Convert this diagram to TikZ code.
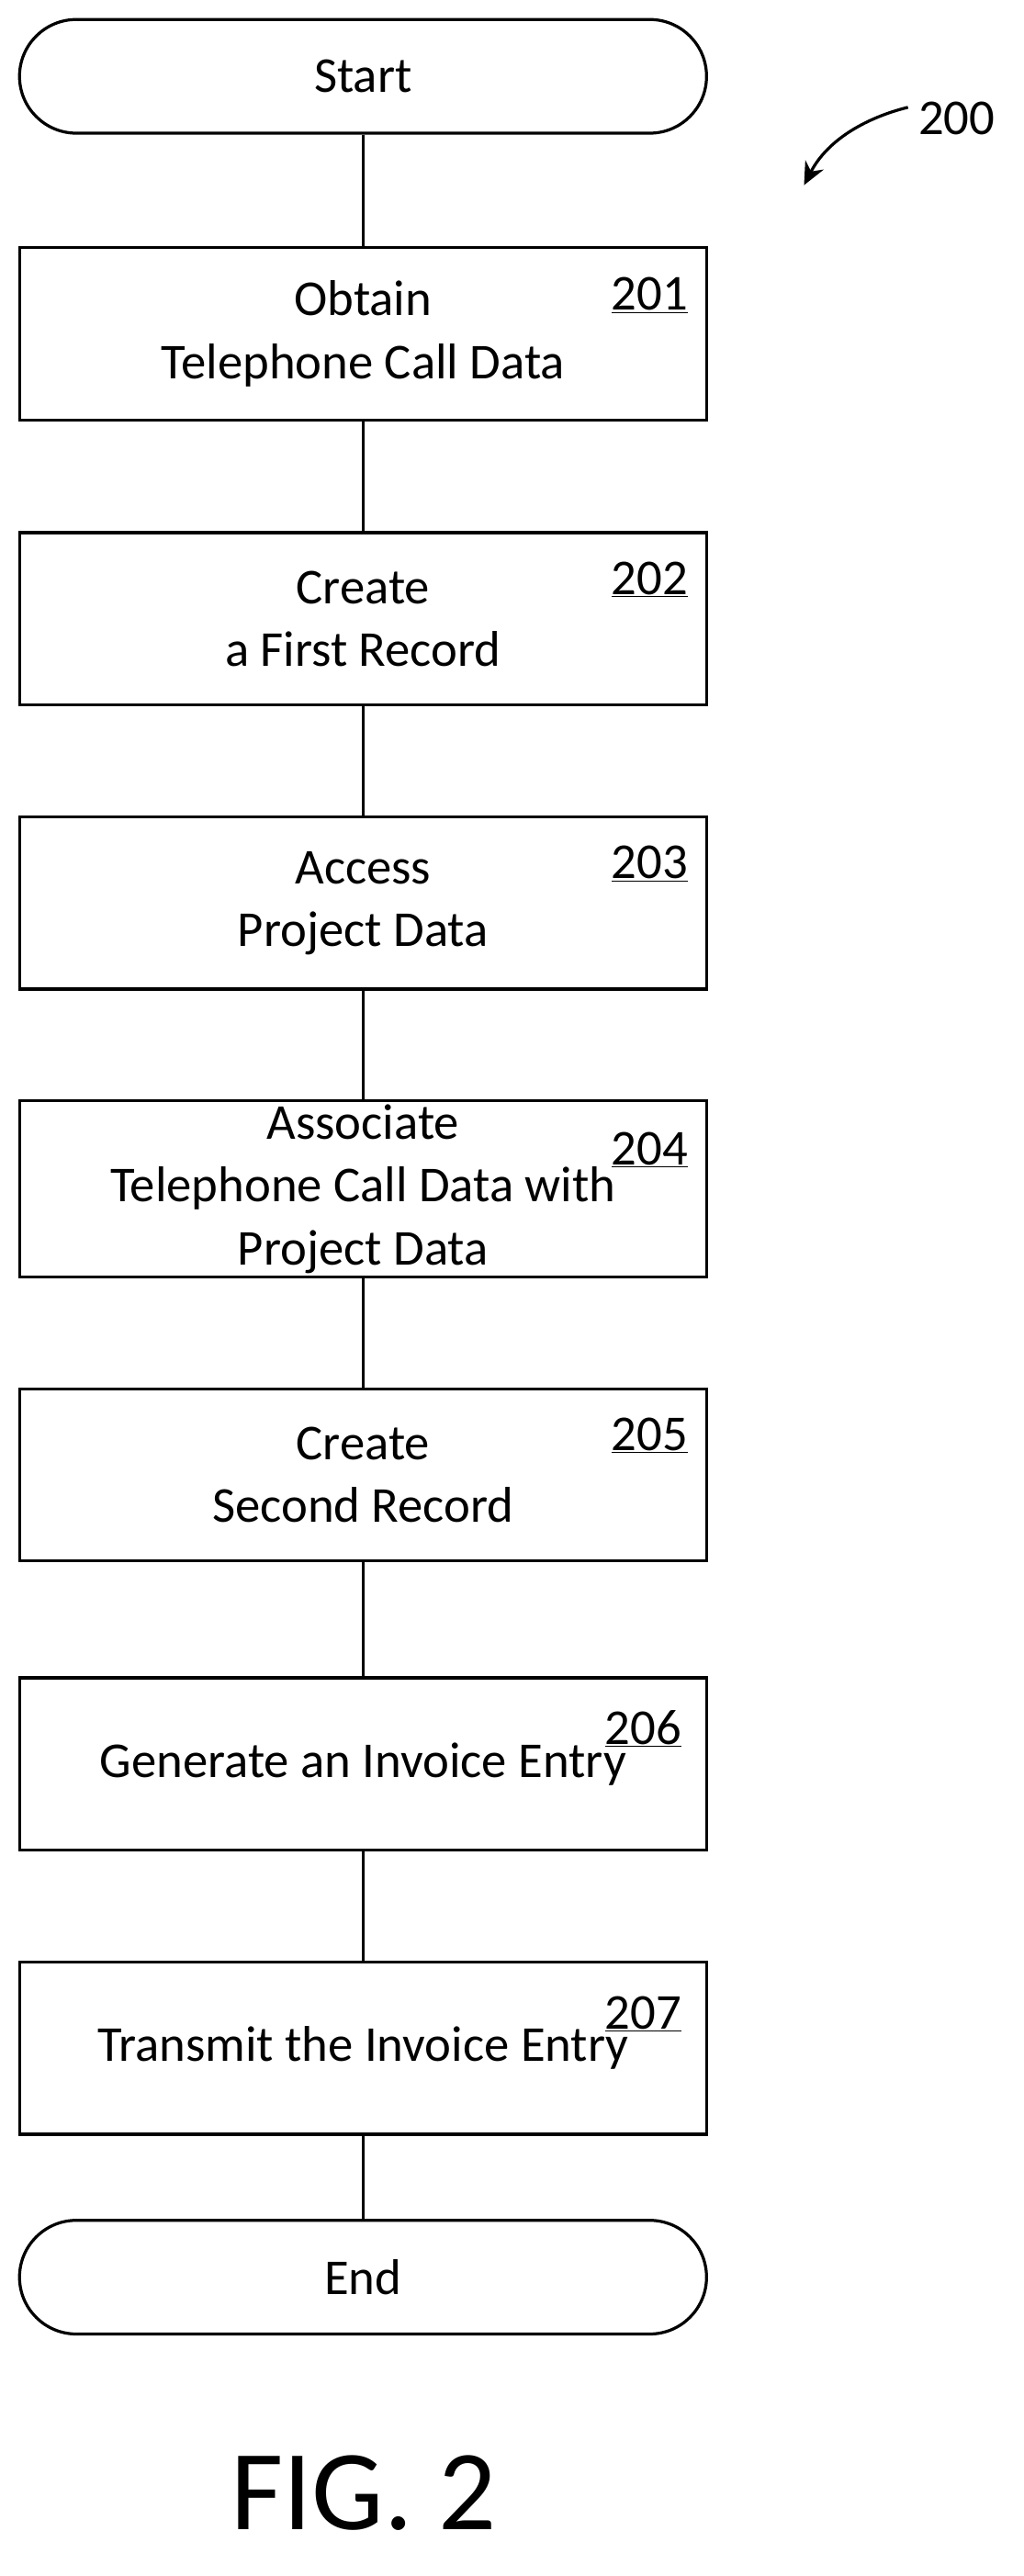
\documentclass[tikz,border=0pt]{standalone}
\usepackage{fontspec}
\setmainfont{Carlito}
\usetikzlibrary{positioning,arrows.meta}
\tikzset{
  stepbox/.style={draw, line width=2.6pt, minimum width=21.15cm, minimum height=5.3cm,
    align=center, font=\fontsize{44}{55}\selectfont},
  pill/.style={stepbox, rounded corners=1.75cm, minimum height=3.5cm},
  refnum/.style={font=\fontsize{44}{55}\selectfont, anchor=base},
  link/.style={line width=2.6pt}
}
\newcommand*{\StepNum}[1]{\underline{#1}}
\begin{document}
\begin{tikzpicture}[x=0.05cm,y=-0.05cm]
  \useasboundingbox (0,0) rectangle (630,1586);
  \node[pill] (start) at (223.5,47) {Start};
  \node[stepbox] (s201) at (223.5,205.5) {Obtain\\Telephone Call Data};
  \node[stepbox] (s202) at (223.5,381) {Create\\a First Record};
  \node[stepbox] (s203) at (223.5,556) {Access\\Project Data};
  \node[stepbox] (s204) at (223.5,732) {Associate\\Telephone Call Data with\\Project Data};
  \node[stepbox] (s205) at (223.5,908) {Create\\Second Record};
  \node[stepbox] (s206) at (223.5,1086) {Generate an Invoice Entry};
  \node[stepbox] (s207) at (223.5,1261) {Transmit the Invoice Entry};
  \node[pill] (end) at (223.5,1402) {End};
  % step numbers
  \node[refnum] (n201) at (400,191) {\StepNum{201}};
  \node[refnum] (n202) at (400,366) {\StepNum{202}};
  \node[refnum] (n203) at (400,541) {\StepNum{203}};
  \node[refnum] (n204) at (400,717) {\StepNum{204}};
  \node[refnum] (n205) at (400,893) {\StepNum{205}};
  \node[refnum] (n206) at (396,1074) {\StepNum{206}};
  \node[refnum] (n207) at (396,1249) {\StepNum{207}};
  % connectors
  \draw[link] (start) -- (s201);
  \draw[link] (s201) -- (s202);
  \draw[link] (s202) -- (s203);
  \draw[link] (s203) -- (s204);
  \draw[link] (s204) -- (s205);
  \draw[link] (s205) -- (s206);
  \draw[link] (s206) -- (s207);
  \draw[link] (s207) -- (end);
  % figure label
  \node[refnum] (n200) at (589,83) {200};
  \coordinate (tip200) at (495,114);
  \draw[link, -{Stealth[length=20pt,width=18pt]}] (n200.west) ++(-4,-7)
    .. controls (535,72) and (510,85) .. (tip200);
  \node[font=\fontsize{100}{110}\selectfont] (fig) at (224,1535) {FIG. 2};
\end{tikzpicture}
\end{document}
